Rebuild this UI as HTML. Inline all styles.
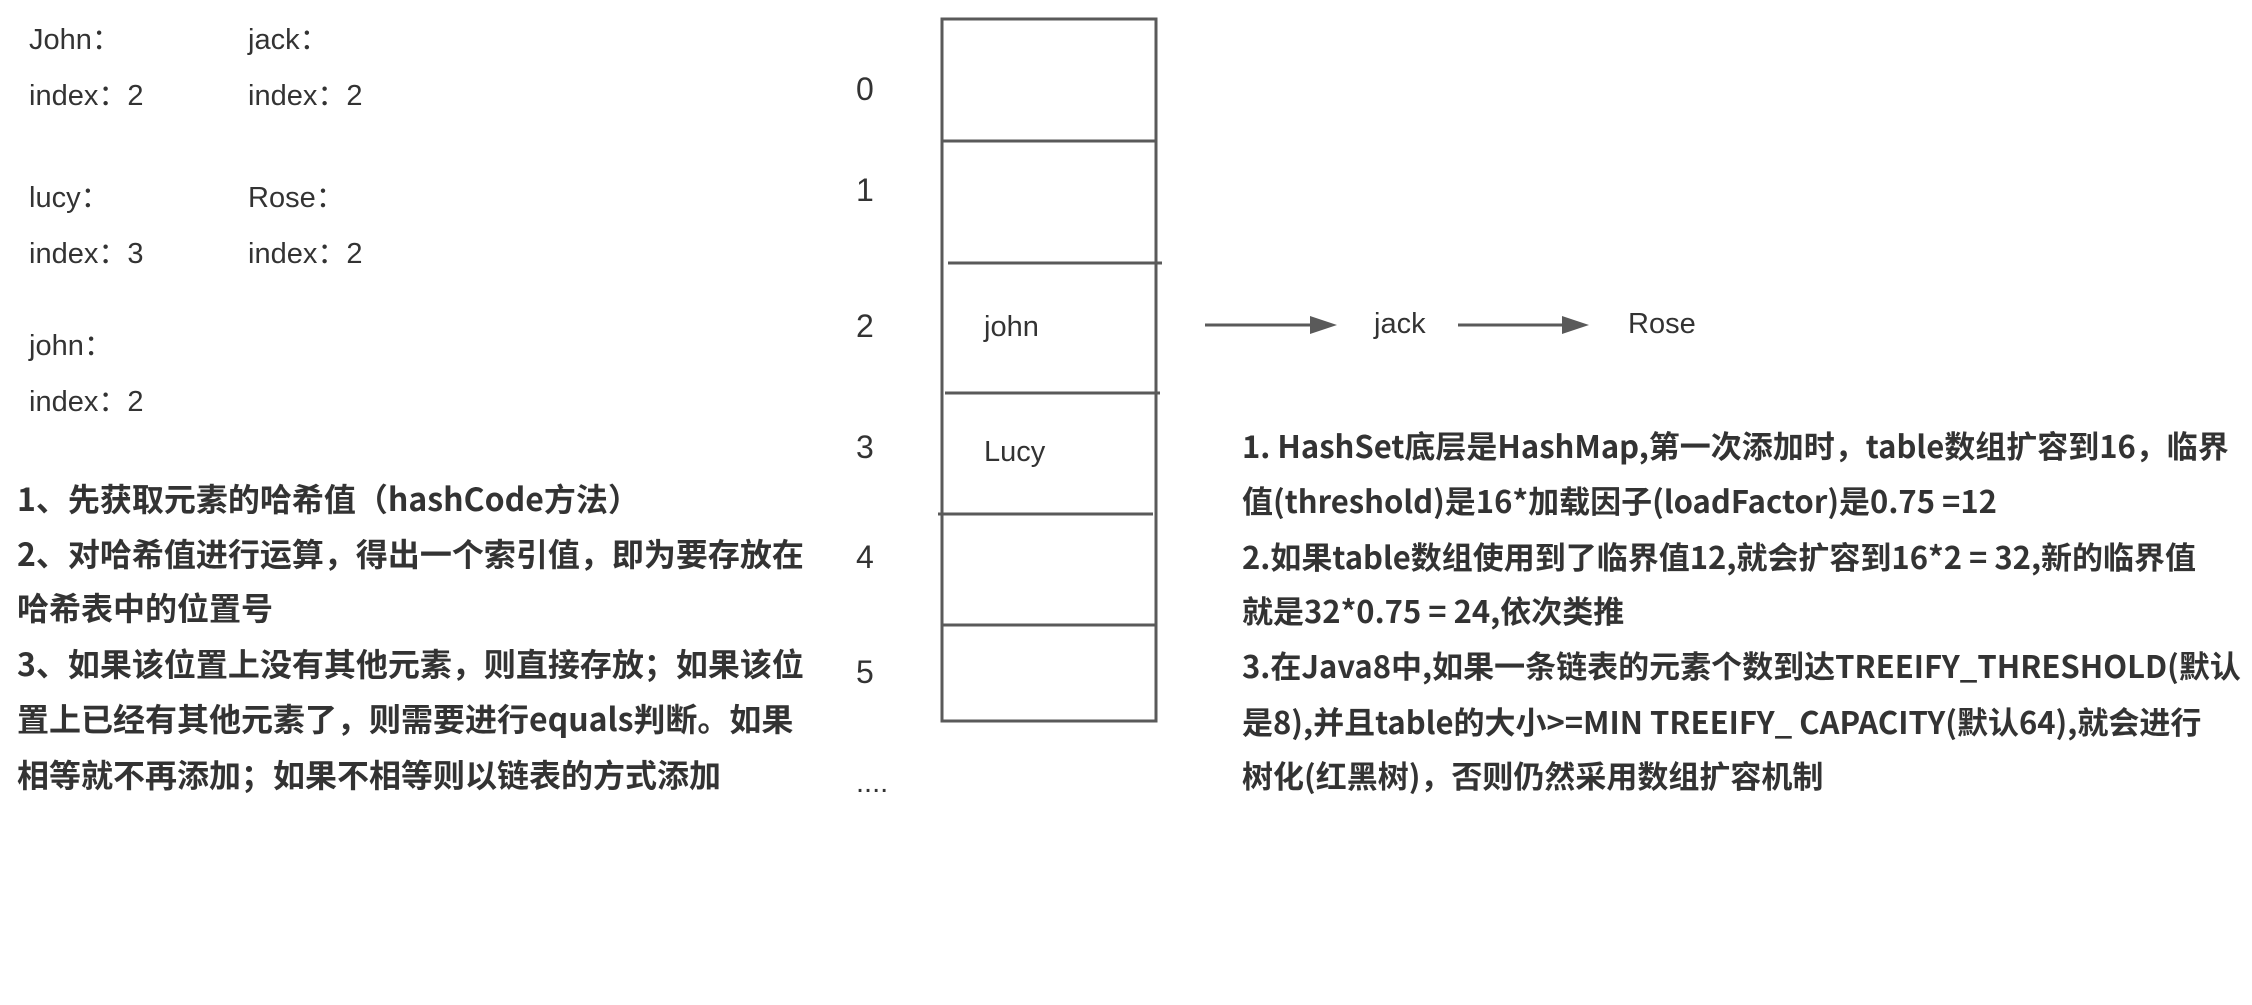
<!DOCTYPE html>
<html><head><meta charset="utf-8"><style>
html,body{margin:0;padding:0;background:#fff;}
body{width:2252px;height:1005px;position:relative;overflow:hidden;font-family:"Liberation Sans","Noto Sans CJK SC",sans-serif;color:#333;}
.t{position:absolute;white-space:nowrap;line-height:40px;}
.n{font-size:29px;}
.b{font-weight:bold;font-size:32px;font-family:"Noto Sans CJK SC","Liberation Sans",sans-serif;}
.r{font-weight:bold;font-size:31px;font-family:"Noto Sans CJK SC","Liberation Sans",sans-serif;}
.i{font-size:32px;}
</style></head><body>
<div class="t n" style="left:29px;top:20px">John：</div>
<div class="t n" style="left:248px;top:20px">jack：</div>
<div class="t n" style="left:29px;top:76px">index：2</div>
<div class="t n" style="left:248px;top:76px">index：2</div>
<div class="t n" style="left:29px;top:178px">lucy：</div>
<div class="t n" style="left:248px;top:178px">Rose：</div>
<div class="t n" style="left:29px;top:234px">index：3</div>
<div class="t n" style="left:248px;top:234px">index：2</div>
<div class="t n" style="left:29px;top:326px">john：</div>
<div class="t n" style="left:29px;top:382px">index：2</div>

<div class="t b" style="left:17px;top:478px">1、先获取元素的哈希值（hashCode方法）</div>
<div class="t b" style="left:17px;top:533px">2、对哈希值进行运算，得出一个索引值，即为要存放在</div>
<div class="t b" style="left:17px;top:587px">哈希表中的位置号</div>
<div class="t b" style="left:17px;top:643px">3、如果该位置上没有其他元素，则直接存放；如果该位</div>
<div class="t b" style="left:17px;top:698px">置上已经有其他元素了，则需要进行equals判断。如果</div>
<div class="t b" style="left:17px;top:754px">相等就不再添加；如果不相等则以链表的方式添加</div>

<div class="t i" style="left:856px;top:69px">0</div>
<div class="t i" style="left:856px;top:170px">1</div>
<div class="t i" style="left:856px;top:306px">2</div>
<div class="t i" style="left:856px;top:427px">3</div>
<div class="t i" style="left:856px;top:537px">4</div>
<div class="t i" style="left:856px;top:652px">5</div>
<div class="t n" style="left:856px;top:763px">....</div>

<svg style="position:absolute;left:0;top:0" width="2252" height="1005">
<g stroke="#5a5a5a" stroke-width="3" fill="none">
<rect x="942" y="19" width="214" height="702"/>
<line x1="942" y1="141" x2="1156" y2="141"/>
<line x1="948" y1="263" x2="1162" y2="263"/>
<line x1="945" y1="393" x2="1160" y2="393"/>
<line x1="938" y1="514" x2="1153" y2="514"/>
<line x1="942" y1="625" x2="1156" y2="625"/>
<line x1="1205" y1="325" x2="1315" y2="325"/>
<line x1="1458" y1="325" x2="1568" y2="325"/>
</g>
<polygon points="1310,316 1337,325 1310,334" fill="#5a5a5a"/>
<polygon points="1562,316 1589,325 1562,334" fill="#5a5a5a"/>
</svg>

<div class="t n" style="left:984px;top:307px">john</div>
<div class="t n" style="left:984px;top:432px">Lucy</div>
<div class="t n" style="left:1374px;top:304px">jack</div>
<div class="t n" style="left:1628px;top:304px">Rose</div>

<div class="t r" style="left:1242px;top:425px">1. HashSet底层是HashMap,第一次添加时，table数组扩容到16，临界</div>
<div class="t r" style="left:1242px;top:480px">值(threshold)是16*加载因子(loadFactor)是0.75 =12</div>
<div class="t r" style="left:1242px;top:536px">2.如果table数组使用到了临界值12,就会扩容到16*2 = 32,新的临界值</div>
<div class="t r" style="left:1242px;top:590px">就是32*0.75 = 24,依次类推</div>
<div class="t r" style="left:1242px;top:645px">3.在Java8中,如果一条链表的元素个数到达TREEIFY_THRESHOLD(默认</div>
<div class="t r" style="left:1242px;top:701px">是8),并且table的大小>=MIN TREEIFY_ CAPACITY(默认64),就会进行</div>
<div class="t r" style="left:1242px;top:755px">树化(红黑树)，否则仍然采用数组扩容机制</div>
</body></html>
